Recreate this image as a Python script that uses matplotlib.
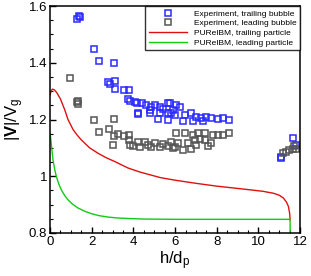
import matplotlib
matplotlib.use('Agg')
import matplotlib.pyplot as plt
from matplotlib.ticker import MultipleLocator, FormatStrFormatter
import numpy as np

plt.rcParams['font.family'] = 'Liberation Sans'
plt.rcParams['mathtext.fontset'] = 'custom'
plt.rcParams['mathtext.rm'] = 'Liberation Sans'
plt.rcParams['mathtext.it'] = 'Liberation Sans:italic'
plt.rcParams['mathtext.bf'] = 'Liberation Sans:bold'

# experiment, trailing bubble
trail_x = [1.30, 1.40, 1.45, 2.12, 2.36, 3.06, 2.78, 3.11, 2.87, 3.14, 3.54, 3.78,
           3.75, 3.83, 4.15, 4.21, 4.07, 4.39, 4.62, 4.86, 5.02, 5.26, 5.65, 6.06,
           6.22, 4.23, 4.78, 5.26, 5.66, 5.98, 5.18, 5.66, 4.78, 5.42, 5.90, 5.74,
           5.82, 6.46, 6.78, 7.02, 7.26, 7.50, 7.74, 8.05, 8.29, 8.58, 6.38, 6.86,
           7.33, 11.64, 11.80, 11.08, 11.08]
trail_y = [1.555, 1.565, 1.560, 1.450, 1.405, 1.400, 1.333, 1.336, 1.325, 1.308, 1.305, 1.304,
           1.274, 1.267, 1.258, 1.220, 1.260, 1.257, 1.251, 1.245, 1.251, 1.245, 1.257, 1.251,
           1.245, 1.222, 1.222, 1.222, 1.222, 1.216, 1.201, 1.199, 1.234, 1.236, 1.234, 1.257,
           1.222, 1.216, 1.222, 1.210, 1.205, 1.210, 1.205, 1.201, 1.205, 1.199, 1.195, 1.193,
           1.195, 1.134, 1.111, 1.069, 1.063]

# experiment, leading bubble
lead_x = [0.96, 1.28, 1.32, 1.36, 2.12, 3.06, 2.36, 2.84, 3.06, 3.25, 3.03, 3.56,
          3.80, 3.80, 3.83, 3.99, 4.23, 4.31, 4.55, 4.70, 4.86, 5.02, 5.26, 5.42,
          5.66, 5.82, 5.98, 6.14, 6.06, 6.46, 6.86, 7.10, 7.42, 7.82, 8.05, 8.29,
          8.58, 6.94, 7.18, 7.42, 6.62, 7.02, 7.74, 5.90, 6.38, 6.78, 7.58, 11.16,
          11.32, 11.48, 11.64, 11.80, 11.72]
lead_y = [1.348, 1.262, 1.267, 1.255, 1.199, 1.201, 1.157, 1.166, 1.142, 1.149, 1.111, 1.142,
          1.146, 1.128, 1.111, 1.107, 1.119, 1.102, 1.122, 1.111, 1.104, 1.116, 1.102, 1.114,
          1.107, 1.119, 1.102, 1.116, 1.152, 1.154, 1.146, 1.152, 1.152, 1.146, 1.146, 1.146,
          1.152, 1.128, 1.130, 1.128, 1.116, 1.111, 1.116, 1.099, 1.093, 1.095, 1.107, 1.081,
          1.087, 1.093, 1.095, 1.095, 1.107]

# PUReIBM, trailing particle
sim_trail_x = [0.0, 0.05, 0.11, 0.2, 0.32, 0.5, 0.7, 0.86, 1.1, 1.3, 1.5, 1.9, 2.3,
               2.7, 3.1, 3.74, 4.3, 4.8, 5.3, 6.0, 7.0, 8.0, 9.0, 9.6, 10.2, 10.72,
               11.0, 11.2, 11.35, 11.44, 11.5, 11.52]
sim_trail_y = [1.287, 1.300, 1.307, 1.305, 1.295, 1.272, 1.235, 1.200, 1.165, 1.145, 1.128,
               1.100, 1.081, 1.065, 1.052, 1.029, 1.015, 1.005, 0.995, 0.986, 0.975,
               0.965, 0.957, 0.952, 0.947, 0.940, 0.933, 0.923, 0.908, 0.893, 0.868, 0.846]

# PUReIBM, leading particle
sim_lead_x = [0.0, 0.03, 0.08, 0.14, 0.22, 0.3, 0.42, 0.54, 0.7, 0.86, 1.05, 1.34, 1.65,
              1.98, 2.35, 2.78, 3.2, 3.74, 4.5, 6.0, 8.0, 10.0, 11.0, 11.52, 11.52]
sim_lead_y = [1.150, 1.134, 1.098, 1.058, 1.025, 0.999, 0.972, 0.952, 0.932, 0.917, 0.903,
              0.888, 0.877, 0.868, 0.861, 0.856, 0.853, 0.851, 0.849, 0.848, 0.848, 0.848,
              0.848, 0.848, 0.800]

fig = plt.figure(figsize=(3.11, 2.76), dpi=100)
ax = fig.add_axes([0.161, 0.156, 0.804, 0.822])

ax.plot(trail_x, trail_y, 's', mfc='none', mec='#2a2aff', mew=1.1, ms=4.3,
        label='Experiment, trailing bubble')
ax.plot(lead_x, lead_y, 's', mfc='none', mec='#555555', mew=1.1, ms=4.3,
        label='Experiment, leading bubble')
ax.plot(sim_trail_x, sim_trail_y, '-', color='#dd1111', lw=1.0,
        label='PUReIBM, trailing particle')
ax.plot(sim_lead_x, sim_lead_y, '-', color='#11cc11', lw=1.0,
        label='PUReIBM, leading particle')

ax.set_xlim(0, 12)
ax.set_ylim(0.8, 1.6)
ax.xaxis.set_major_locator(MultipleLocator(2))
ax.xaxis.set_minor_locator(MultipleLocator(0.5))
ax.yaxis.set_major_locator(MultipleLocator(0.2))
ax.yaxis.set_minor_locator(MultipleLocator(0.05))
ax.yaxis.set_major_formatter(FormatStrFormatter('%g'))
ax.xaxis.set_major_formatter(FormatStrFormatter('%g'))
ax.tick_params(which='both', direction='in', top=False, right=False, labelsize=9.5, pad=2)
ax.tick_params(which='major', length=4, width=1)
ax.tick_params(which='minor', length=2.2, width=0.8)
for s in ax.spines.values():
    s.set_linewidth(1.1)

ax.set_xlabel(r'$\mathrm{h/d_p}$', fontsize=12, labelpad=1)
ax.set_ylabel(r'$\mathrm{|}\mathbf{V}\mathrm{|/V_g}$', fontsize=12, labelpad=2)

leg = ax.legend(loc='upper right', fontsize=6.0, frameon=True, fancybox=False,
                borderaxespad=0, handlelength=4.6, labelspacing=0.22,
                borderpad=0.45, handletextpad=0.8)
leg.get_frame().set_edgecolor('black')
leg.get_frame().set_linewidth(1.0)

fig.savefig('out.png', dpi=100)
